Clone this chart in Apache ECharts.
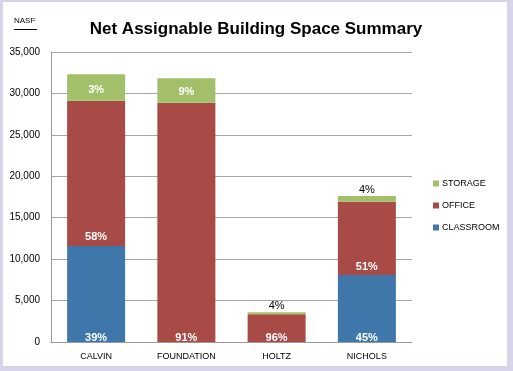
<!DOCTYPE html>
<html>
<head>
<meta charset="utf-8">
<script src="https://cdn.jsdelivr.net/npm/echarts@6/dist/echarts.min.js"></script>
<style>
html,body{margin:0;padding:0;background:#d6d4e8;}
#panel{position:absolute;left:3px;top:2px;width:504px;height:364px;background:#ffffff;}
#chart{position:absolute;left:0;top:0;width:513px;height:371px;}
</style>
</head>
<body>
<div id="panel"></div>
<div id="chart"></div>
<script>
const categories = ['CALVIN', 'FOUNDATION', 'HOLTZ', 'NICHOLS'];
const classroom = [11590, 0, 0, 8080];
const office = [17530, 28880, 3340, 8850];
const storage = [3190, 2940, 240, 690];
const classroomPct = ['39%', '', '', '45%'];
const officePct = ['58%', '91%', '96%', '51%'];
const storagePct = ['3%', '9%', '4%', '4%'];
const storageLabelOutside = [false, false, true, true];
const yTicks = [0, 5000, 10000, 15000, 20000, 25000, 30000, 35000];

const FONT = 'Liberation Sans';
const chart = echarts.init(document.getElementById('chart'), null, {renderer: 'canvas'});

const inLabel = {show: true, color: '#ffffff', fontFamily: FONT, fontWeight: 'bold', fontSize: 11};

const option = {
  backgroundColor: 'transparent',
  animation: false,
  title: {
    text: 'Net Assignable Building Space Summary',
    left: 251, top: 16, textAlign: 'center',
    textStyle: {fontFamily: FONT, fontWeight: 'bold', fontSize: 17, color: '#000'}
  },
  graphic: [
    {type: 'text', left: 14, top: 17, style: {text: 'NASF', fontFamily: FONT, fontSize: 8, fill: '#000'}},
    {type: 'line', shape: {x1: 14, y1: 29.5, x2: 37, y2: 29.5}, style: {stroke: '#000', lineWidth: 1}}
  ],
  legend: {
    orient: 'vertical', left: 428, top: 174,
    itemWidth: 6, itemHeight: 6, itemGap: 13,
    icon: 'rect',
    data: ['STORAGE', 'OFFICE', 'CLASSROOM'],
    textStyle: {fontFamily: FONT, fontSize: 9, color: '#000', padding: [0, 0, 0, -2]}
  },
  grid: {left: 51, right: 101, top: 52, bottom: 29},
  xAxis: {
    type: 'category', data: categories,
    axisLine: {lineStyle: {color: '#9a9a9a'}},
    axisTick: {show: false},
    axisLabel: {fontFamily: FONT, fontSize: 9, color: '#000', margin: 10}
  },
  yAxis: {
    type: 'value', min: yTicks[0], max: yTicks[yTicks.length - 1], interval: yTicks[1] - yTicks[0],
    axisLine: {show: true, lineStyle: {color: '#9a9a9a'}},
    axisTick: {show: false},
    splitLine: {lineStyle: {color: '#a6a6a6'}},
    axisLabel: {fontFamily: FONT, fontSize: 10, color: '#000', margin: 11,
      formatter: v => v.toLocaleString('en-US')}
  },
  series: [
    {
      name: 'CLASSROOM', type: 'bar', stack: 's', barWidth: 58,
      itemStyle: {color: '#3f77ab'},
      data: classroom.map((v, i) => ({
        value: v,
        label: Object.assign({}, inLabel, {position: 'insideBottom', distance: -1, formatter: classroomPct[i] || ''})
      }))
    },
    {
      name: 'OFFICE', type: 'bar', stack: 's',
      itemStyle: {color: '#a84a46'},
      data: office.map((v, i) => ({
        value: v,
        label: Object.assign({}, inLabel, {position: 'insideBottom', distance: classroom[i] > 0 ? 3 : -1, formatter: officePct[i]})
      }))
    },
    {
      name: 'STORAGE', type: 'bar', stack: 's',
      itemStyle: {color: '#a2c06a'},
      data: storage.map((v, i) => ({
        value: v,
        label: storageLabelOutside[i]
          ? {show: true, position: 'top', distance: 1, color: '#000', fontFamily: FONT, fontSize: 11, formatter: storagePct[i]}
          : Object.assign({}, inLabel, {position: 'insideBottom', distance: 5, formatter: storagePct[i]})
      }))
    }
  ]
};
chart.setOption(option);
</script>
</body>
</html>
